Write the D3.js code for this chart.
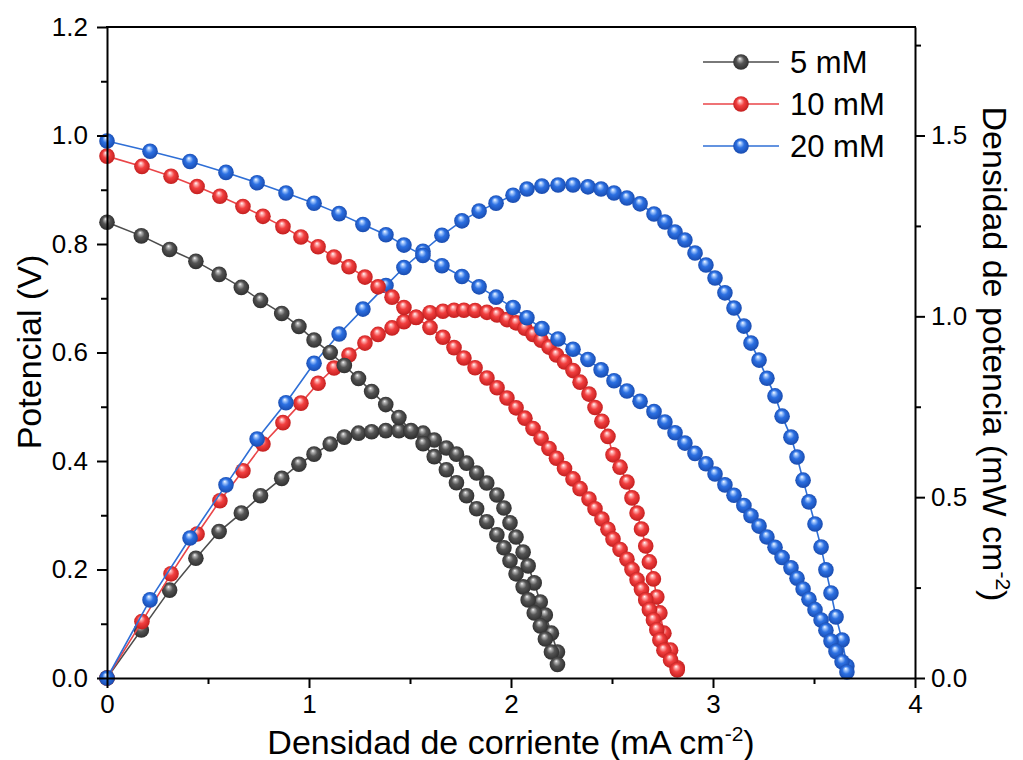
<!DOCTYPE html>
<html><head><meta charset="utf-8">
<script src="https://cdn.jsdelivr.net/npm/d3@7"></script>
<style>body{margin:0;background:#fff}svg{display:block}</style>
</head><body>
<svg id="c" width="1023" height="760"></svg>
<script>
// ---------------- DATA ----------------
const seriesNames = ["5 mM", "10 mM", "20 mM"];

const current5 = [0, 0.17, 0.31, 0.44, 0.555, 0.665, 0.76, 0.865, 0.95, 1.025, 1.105, 1.175, 1.245, 1.31, 1.38, 1.445, 1.505, 1.565, 1.62, 1.68, 1.73, 1.78, 1.83, 1.88, 1.93, 1.965, 1.995, 2.025, 2.06, 2.085, 2.115, 2.145, 2.17, 2.20, 2.23];
const potential5 = [0.84, 0.815, 0.79, 0.768, 0.744, 0.72, 0.696, 0.672, 0.648, 0.623, 0.60, 0.576, 0.552, 0.528, 0.504, 0.48, 0.456, 0.432, 0.408, 0.384, 0.36, 0.336, 0.312, 0.288, 0.264, 0.24, 0.216, 0.192, 0.168, 0.144, 0.12, 0.096, 0.072, 0.048, 0.025];
const power5 = [0, 0.133, 0.243, 0.331, 0.405, 0.456, 0.504, 0.552, 0.591, 0.619, 0.647, 0.666, 0.677, 0.681, 0.684, 0.684, 0.681, 0.677, 0.658, 0.636, 0.619, 0.594, 0.567, 0.539, 0.506, 0.470, 0.429, 0.390, 0.348, 0.310, 0.263, 0.210, 0.174, 0.124, 0.072];

const current10 = [0, 0.173, 0.317, 0.446, 0.559, 0.673, 0.772, 0.871, 0.960, 1.045, 1.124, 1.198, 1.277, 1.342, 1.411, 1.470, 1.530, 1.599, 1.663, 1.718, 1.767, 1.822, 1.881, 1.931, 1.980, 2.025, 2.069, 2.109, 2.149, 2.188, 2.225, 2.265, 2.307, 2.342, 2.386, 2.416, 2.450, 2.480, 2.505, 2.540, 2.574, 2.599, 2.624, 2.646, 2.667, 2.685, 2.705, 2.722, 2.737, 2.757, 2.790, 2.823];
const potential10 = [0.962, 0.943, 0.925, 0.906, 0.888, 0.869, 0.851, 0.832, 0.813, 0.795, 0.776, 0.758, 0.739, 0.721, 0.702, 0.683, 0.665, 0.646, 0.628, 0.609, 0.590, 0.572, 0.553, 0.535, 0.516, 0.498, 0.479, 0.460, 0.442, 0.423, 0.405, 0.386, 0.367, 0.349, 0.330, 0.312, 0.293, 0.274, 0.256, 0.237, 0.219, 0.200, 0.181, 0.163, 0.144, 0.126, 0.107, 0.089, 0.070, 0.051, 0.033, 0.015];
const power10 = [0, 0.156, 0.288, 0.398, 0.490, 0.573, 0.647, 0.706, 0.760, 0.815, 0.857, 0.893, 0.926, 0.950, 0.968, 0.985, 0.997, 1.010, 1.014, 1.017, 1.017, 1.016, 1.011, 1.004, 0.991, 0.982, 0.967, 0.950, 0.934, 0.915, 0.893, 0.874, 0.850, 0.818, 0.785, 0.748, 0.710, 0.668, 0.617, 0.583, 0.542, 0.498, 0.456, 0.412, 0.365, 0.321, 0.274, 0.224, 0.180, 0.124, 0.077, 0.028];

const current20 = [0, 0.213, 0.411, 0.589, 0.743, 0.886, 1.025, 1.149, 1.267, 1.381, 1.470, 1.564, 1.658, 1.757, 1.842, 1.926, 2.010, 2.079, 2.153, 2.233, 2.307, 2.381, 2.446, 2.510, 2.574, 2.639, 2.708, 2.762, 2.812, 2.861, 2.911, 2.965, 3.010, 3.059, 3.104, 3.153, 3.188, 3.228, 3.267, 3.307, 3.342, 3.386, 3.416, 3.446, 3.475, 3.505, 3.535, 3.559, 3.584, 3.609, 3.639, 3.663];
const potential20 = [0.990, 0.971, 0.952, 0.932, 0.913, 0.894, 0.875, 0.856, 0.836, 0.817, 0.798, 0.779, 0.760, 0.740, 0.721, 0.702, 0.683, 0.664, 0.644, 0.625, 0.606, 0.587, 0.568, 0.548, 0.529, 0.510, 0.491, 0.472, 0.452, 0.433, 0.414, 0.395, 0.376, 0.356, 0.337, 0.318, 0.299, 0.280, 0.260, 0.241, 0.222, 0.203, 0.184, 0.164, 0.145, 0.126, 0.107, 0.088, 0.068, 0.049, 0.030, 0.011];
const power20 = [0, 0.216, 0.387, 0.534, 0.661, 0.761, 0.870, 0.951, 1.020, 1.085, 1.135, 1.180, 1.224, 1.264, 1.291, 1.313, 1.335, 1.352, 1.360, 1.363, 1.363, 1.358, 1.352, 1.341, 1.327, 1.311, 1.283, 1.261, 1.233, 1.211, 1.175, 1.142, 1.106, 1.065, 1.023, 0.973, 0.926, 0.879, 0.829, 0.780, 0.724, 0.666, 0.611, 0.547, 0.487, 0.426, 0.362, 0.299, 0.235, 0.169, 0.105, 0.033];

const xTicks = [0, 1, 2, 3, 4];
const xMinorTicks = [0.5, 1.5, 2.5, 3.5];
const leftTicks = [0, 0.2, 0.4, 0.6, 0.8, 1.0, 1.2];
const leftMinorTicks = [0.1, 0.3, 0.5, 0.7, 0.9, 1.1];
const rightTicks = [0, 0.5, 1.0, 1.5];
const rightMinorTicks = [0.25, 0.75, 1.25, 1.75];

// ---------------- CHART ----------------
const FONT = '"Liberation Sans", Arial, Helvetica, sans-serif';
const svg = d3.select("#c");
svg.append("rect").attr("width", 1023).attr("height", 760).attr("fill", "#fff");
const L = 107, R = 915, T = 27, B = 678;
const x = d3.scaleLinear().domain([0, 4]).range([L, R]);
const yL = d3.scaleLinear().domain([0, 1.2]).range([B, T]);
const yR = d3.scaleLinear().domain([0, 1.8]).range([B, T]);

const styles = [
  {id: "k", base: "#555555", light: "#b8b8b8", dark: "#2a2a2a", line: "#4d4d4d"},
  {id: "r", base: "#f24040", light: "#ffb8b8", dark: "#bd1a1a", line: "#ea4548"},
  {id: "b", base: "#2c70e2", light: "#aecfff", dark: "#1646a8", line: "#2f6fd6"}
];
const defs = svg.append("defs");
styles.forEach(s => {
  const g = defs.append("radialGradient").attr("id", "grad" + s.id)
    .attr("cx", "50%").attr("cy", "50%").attr("r", "55%").attr("fx", "42%").attr("fy", "28%");
  g.append("stop").attr("offset", "0%").attr("stop-color", "#ffffff");
  g.append("stop").attr("offset", "14%").attr("stop-color", s.light);
  g.append("stop").attr("offset", "45%").attr("stop-color", s.base);
  g.append("stop").attr("offset", "100%").attr("stop-color", s.dark);
});

const seriesData = [
  {name: seriesNames[0], I: current5, V: potential5, P: power5, st: styles[0]},
  {name: seriesNames[1], I: current10, V: potential10, P: power10, st: styles[1]},
  {name: seriesNames[2], I: current20, V: potential20, P: power20, st: styles[2]}
];

const RADIUS = 7.8;
const plot = svg.append("g");
function drawLayer(key, yScale) {
  seriesData.forEach(s => {
    const pts = s.I.map((d, i) => ({i: d, v: s[key][i]}));
    plot.append("path")
      .attr("d", d3.line().x(d => x(d.i)).y(d => yScale(d.v))(pts))
      .attr("fill", "none").attr("stroke", s.st.line).attr("stroke-width", 1.6);
    plot.append("g").selectAll("circle").data(pts).join("circle")
      .attr("cx", d => x(d.i)).attr("cy", d => yScale(d.v)).attr("r", RADIUS)
      .attr("fill", `url(#grad${s.st.id})`);
  });
}
drawLayer("P", yR);
drawLayer("V", yL);

// axes
function styleAxis(g) {
  g.selectAll("path,line").attr("stroke", "#000").attr("stroke-width", 2);
  g.selectAll("text").attr("font-family", FONT).attr("font-size", 26).attr("fill", "#000");
}
svg.append("g").attr("transform", `translate(0,${B})`)
  .call(d3.axisBottom(x).tickValues(xTicks).tickFormat(d3.format("d")).tickSize(10).tickSizeOuter(0).tickPadding(7))
  .call(styleAxis);
svg.append("g").attr("transform", `translate(0,${B})`)
  .call(d3.axisBottom(x).tickValues(xMinorTicks).tickFormat("").tickSize(6).tickSizeOuter(0))
  .call(g => g.select(".domain").remove()).call(styleAxis);

svg.append("g").attr("transform", `translate(${L},0)`)
  .call(d3.axisLeft(yL).tickValues(leftTicks).tickFormat(d3.format(".1f")).tickSize(10).tickSizeOuter(0).tickPadding(9))
  .call(styleAxis);
svg.append("g").attr("transform", `translate(${L},0)`)
  .call(d3.axisLeft(yL).tickValues(leftMinorTicks).tickFormat("").tickSize(6).tickSizeOuter(0))
  .call(g => g.select(".domain").remove()).call(styleAxis);

svg.append("g").attr("transform", `translate(${R},0)`)
  .call(d3.axisRight(yR).tickValues(rightTicks).tickFormat(d3.format(".1f")).tickSize(10).tickSizeOuter(0).tickPadding(6))
  .call(styleAxis);
svg.append("g").attr("transform", `translate(${R},0)`)
  .call(d3.axisRight(yR).tickValues(rightMinorTicks).tickFormat("").tickSize(6).tickSizeOuter(0))
  .call(g => g.select(".domain").remove()).call(styleAxis);

svg.append("line").attr("x1", L - 1).attr("x2", R + 1).attr("y1", T).attr("y2", T)
  .attr("stroke", "#000").attr("stroke-width", 2);

// titles
function title(txt, sup, tail, transform) {
  const t = svg.append("text").attr("transform", transform).attr("text-anchor", "middle")
    .attr("font-family", FONT).attr("font-size", 34).attr("fill", "#000");
  t.append("tspan").text(txt);
  if (sup) {
    t.append("tspan").attr("font-size", 21).attr("dy", -13).text(sup);
    t.append("tspan").attr("dy", 13).text(tail);
  }
}
title("Densidad de corriente (mA cm", "-2", ")", `translate(511,754)`);
title("Potencial (V)", null, null, `translate(41,352) rotate(-90)`);
title("Densidad de potencia (mW cm", "-2", ")", `translate(983,354) rotate(90)`);

// legend
const legendY = [62, 104, 146];
seriesData.forEach((s, k) => {
  const g = svg.append("g");
  g.append("line").attr("x1", 703).attr("x2", 779).attr("y1", legendY[k]).attr("y2", legendY[k])
    .attr("stroke", s.st.line).attr("stroke-width", 1.6);
  g.append("circle").attr("cx", 741).attr("cy", legendY[k]).attr("r", RADIUS).attr("fill", `url(#grad${s.st.id})`);
  g.append("text").attr("x", 790).attr("y", legendY[k] + 11).attr("font-family", FONT)
    .attr("font-size", 31).attr("fill", "#000").text(s.name);
});
</script>
</body></html>
